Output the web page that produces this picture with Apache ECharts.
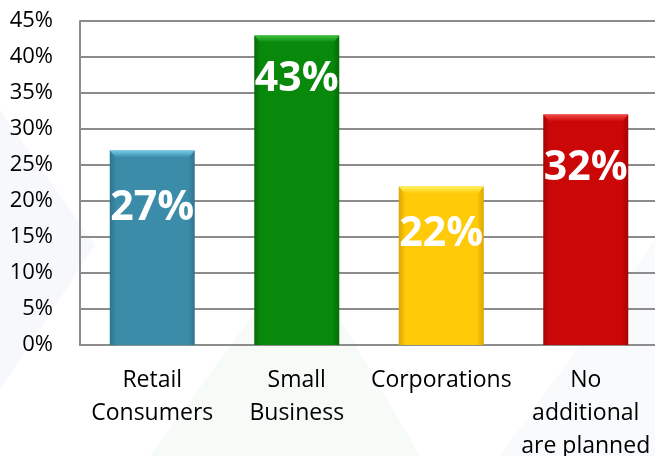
<!DOCTYPE html>
<html>
<head>
<meta charset="utf-8">
<script src="https://cdn.jsdelivr.net/npm/echarts@6/dist/echarts.min.js"></script>
<style>
  html, body { margin: 0; padding: 0; background: #ffffff; }
  #chart { width: 655px; height: 456px; }
</style>
</head>
<body>
<div id="chart"></div>
<script>
// Survey answers: share of respondents per target group (percent)
const categories = ['Retail\nConsumers', 'Small\nBusiness', 'Corporations', 'No\nadditional\nare planned'];
const shares = [27, 43, 22, 32];
const yTicks = { min: 0, max: 45, step: 5 };

// Bar fill colours (edge, centre), bevel highlight and label gap below each bar top
const barColors = [
  ['#2f7590', '#3a8ca8'],
  ['#056c07', '#08890b'],
  ['#dba500', '#ffca08'],
  ['#a50404', '#cc0707']
];
const topColors = ['#72cbea', '#3cc43c', '#fff25a', '#f24848'];
const labelGaps = [38, 24, 28, 34];

const chart = echarts.init(document.getElementById('chart'), null, { renderer: 'canvas' });

function barFill(i) {
  const c = barColors[i];
  return new echarts.graphic.LinearGradient(0, 0, 1, 0, [
    { offset: 0, color: c[0] },
    { offset: 0.08, color: c[1] },
    { offset: 0.92, color: c[1] },
    { offset: 1, color: c[0] }
  ]);
}

const barData = shares.map((v, i) => ({
  value: v,
  itemStyle: { color: barFill(i) },
  label: { distance: labelGaps[i] }
}));

// light bevelled cap on top of each bar
const capData = shares.map((v, i) => ({
  value: v,
  itemStyle: {
    color: new echarts.graphic.LinearGradient(0, 0, 0, 1, [
      { offset: 0, color: topColors[i] },
      { offset: 1, color: barColors[i][1] }
    ])
  }
}));

chart.setOption({
  animation: false,
  backgroundColor: '#ffffff',
  graphic: [
    { type: 'polygon', z: -10, silent: true,
      shape: { points: [[0, 110], [95, 245], [0, 390]] },
      style: { fill: 'rgba(220,228,240,0.25)' } },
    { type: 'polygon', z: -10, silent: true,
      shape: { points: [[150, 456], [300, 250], [420, 456]] },
      style: { fill: 'rgba(225,240,228,0.25)' } },
    { type: 'polygon', z: -10, silent: true,
      shape: { points: [[500, 456], [655, 240], [655, 456]] },
      style: { fill: 'rgba(225,232,242,0.22)' } }
  ],
  grid: { left: 80, right: -3, top: 21, bottom: 111, containLabel: false, outerBoundsMode: 'none' },
  xAxis: {
    type: 'category',
    data: categories,
    axisTick: { show: false },
    axisLine: { show: true, lineStyle: { color: '#8c8c8c', width: 2 } },
    axisLabel: {
      interval: 0,
      margin: 19,
      color: '#000000',
      fontFamily: 'Open Sans',
      fontSize: 23,
      lineHeight: 33
    }
  },
  yAxis: {
    type: 'value',
    min: yTicks.min,
    max: yTicks.max,
    interval: yTicks.step,
    axisLine: { show: true, lineStyle: { color: '#8c8c8c', width: 2 } },
    axisTick: { show: false },
    splitLine: { show: true, lineStyle: { color: '#8c8c8c', width: 2 } },
    axisLabel: {
      margin: 27,
      color: '#000000',
      fontFamily: 'Open Sans',
      fontSize: 22,
      formatter: '{value}%'
    }
  },
  series: [
    {
      type: 'bar',
      data: barData,
      barWidth: 85,
      z: 2,
      label: {
        show: true,
        position: 'insideTop',
        color: '#ffffff',
        fontFamily: 'Open Sans',
        fontWeight: 'bold',
        fontSize: 41,
        lineHeight: 40,
        formatter: p => p.value + '%'
      }
    },
    {
      // bevel cap: trapezoid lying on the bar top
      type: 'pictorialBar',
      data: capData,
      symbol: 'path://M0,0 L85,0 L79,7 L6,7 Z',
      symbolSize: [85, 7],
      symbolPosition: 'end',
      symbolOffset: [0, 0],
      z: 3,
      silent: true
    }
  ]
});
</script>
</body>
</html>
